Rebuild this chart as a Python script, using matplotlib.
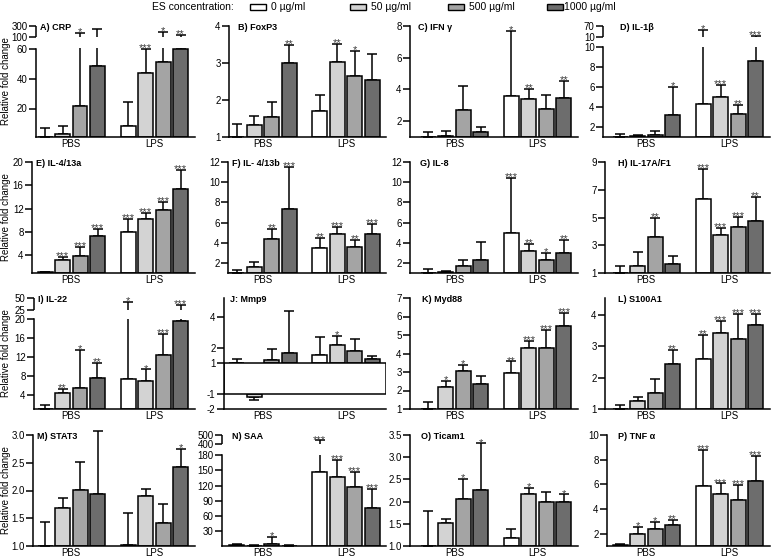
import numpy as np
import matplotlib
matplotlib.use('Agg')
import matplotlib.pyplot as plt
from matplotlib.patches import Rectangle

plt.rcParams['font.family'] = ['Liberation Sans', 'DejaVu Sans']

# ---- data ----
groups = ['PBS', 'LPS']
conc_labels = ['0 µg/ml', '50 µg/ml', '500 µg/ml', '1000 µg/ml']

titles = ['A) CRP', 'B) FoxP3', 'C) IFN γ', 'D) IL-1β',
          'E) IL-4/13a', 'F) IL- 4/13b', 'G) IL-8', 'H) IL-17A/F1',
          'I) IL-22', 'J: Mmp9', 'K) Myd88', 'L) S100A1',
          'M) STAT3', 'N) SAA', 'O) Ticam1', 'P) TNF α']

# bar heights: PBS 0/50/500/1000 then LPS 0/50/500/1000
means = [
    [1, 2.8, 21.7, 48.5, 8.5, 43.9, 51.2, 60],          # A
    [1, 1.32, 1.53, 2.99, 1.69, 3.03, 2.65, 2.53],      # B
    [1, 1.05, 2.68, 1.3, 3.58, 3.42, 2.78, 3.48],       # C
    [1, 1.15, 1.2, 3.2, 4.3, 4.97, 3.27, 8.6],          # D
    [1.1, 3.2, 3.9, 7.4, 8.1, 10.3, 11.8, 15.4],        # E
    [1, 1.6, 4.4, 7.3, 3.5, 4.85, 3.6, 4.85],           # F
    [1, 1.06, 1.66, 2.27, 5.0, 3.2, 2.27, 2.95],        # G
    [1, 1.5, 3.58, 1.65, 6.35, 3.77, 4.33, 4.73],       # H
    [1, 4.35, 5.5, 7.6, 7.4, 7.0, 12.5, 19.6],          # I
    [1, -1.2, 1.2, 1.67, 1.52, 2.16, 1.78, 1.24],       # J
    [1, 2.2, 3.08, 2.34, 2.96, 4.3, 4.3, 5.5],          # K
    [1, 1.24, 1.5, 2.44, 2.6, 3.42, 3.23, 3.7],         # L
    [1, 1.69, 2.01, 1.94, 1.02, 1.9, 1.42, 2.42],       # M
    [2, 1.5, 5.6, 1.5, 147, 137, 117.5, 76.7],          # N
    [1, 1.51, 2.06, 2.26, 1.17, 2.17, 2.0, 1.98],       # O
    [1.1, 1.95, 2.35, 2.68, 5.85, 5.25, 4.76, 6.25],    # P
]

# end of the error bar (mean + SD)
errs = [
    [7.2, 8.5, 170, 245, 24.5, 59.7, 196, 130],
    [1.36, 1.57, 1.94, 3.49, 2.13, 3.52, 3.33, 3.24],
    [1.3, 1.4, 4.2, 1.62, 7.7, 4.05, 3.63, 4.53],
    [1.3, 1.23, 1.63, 6.0, 48.5, 6.2, 4.2, 15],
    [1.2, 3.8, 5.5, 8.6, 10.3, 11.2, 13.2, 18.6],
    [1.26, 2.1, 5.4, 11.5, 4.5, 5.6, 4.3, 5.9],
    [1.4, 1.2, 2.33, 4.1, 10.4, 3.85, 2.95, 4.3],
    [1.48, 2.5, 5.0, 2.25, 8.5, 4.25, 5.05, 6.5],
    [1.9, 5.2, 13.5, 10.7, 41, 9.35, 16.8, 35.4],
    [1.24, -1.4, 1.9, 4.37, 2.7, 2.75, 2.55, 1.45],
    [1.37, 2.52, 3.38, 2.78, 3.57, 4.7, 5.25, 6.2],
    [1.14, 1.38, 1.95, 2.89, 3.36, 3.81, 4.05, 4.05],
    [1.44, 1.87, 2.52, 3.08, 1.6, 2.02, 1.76, 2.75],
    [4, 3, 19, 3, 439, 170, 146, 114],
    [1.78, 1.6, 2.5, 3.31, 1.38, 2.3, 2.22, 2.16],
    [1.2, 2.54, 2.95, 3.14, 8.78, 6.07, 5.93, 8.29],
]

stars = [
    ['', '', '*', '', '', '***', '*', '**'],
    ['', '', '', '**', '', '**', '*', ''],
    ['', '', '', '', '*', '**', '', '**'],
    ['', '', '', '*', '*', '***', '**', '***'],
    ['', '***', '***', '***', '***', '***', '***', '***'],
    ['', '', '**', '***', '**', '***', '**', '***'],
    ['', '', '', '', '***', '**', '*', '**'],
    ['', '', '**', '', '***', '***', '***', '**'],
    ['', '**', '*', '**', '*', '*', '***', '***'],
    ['', '', '', '', '', '*', '', ''],
    ['', '*', '*', '', '**', '***', '***', '***'],
    ['', '', '', '**', '**', '***', '***', '***'],
    ['', '', '', '', '', '', '', '*'],
    ['', '', '*', '', '***', '***', '***', '***'],
    ['', '', '*', '*', '', '*', '', '*'],
    ['', '*', '*', '**', '***', '***', '***', '***'],
]

ytick_vals = [
    [20, 40, 60, 100, 300], [1, 2, 3, 4], [2, 4, 6, 8], [2, 4, 6, 8, 10, 10.001, 70],
    [4, 8, 12, 16, 20], [2, 4, 6, 8, 10, 12], [2, 4, 6, 8, 10, 12], [1, 3, 5, 7, 9],
    [4, 8, 12, 16, 20, 25, 50], [-2, -1, 1, 2, 4], [1, 2, 3, 4, 5, 6, 7], [1, 2, 3, 4],
    [1.0, 1.5, 2.0, 2.5, 3.0], [30, 60, 90, 120, 150, 180, 400, 500],
    [1.0, 1.5, 2.0, 2.5, 3.0, 3.5], [2, 4, 6, 8, 10],
]
ytick_text = [
    ['20', '40', '60', '100', '300'], ['1', '2', '3', '4'], ['2', '4', '6', '8'],
    ['2', '4', '6', '8', '10', '10', '70'],
    ['4', '8', '12', '16', '20'], ['2', '4', '6', '8', '10', '12'],
    ['2', '4', '6', '8', '10', '12'], ['1', '3', '5', '7', '9'],
    ['4', '8', '12', '16', '20', '25', '50'], ['-2', '-1', '1', '2', '4'],
    ['1', '2', '3', '4', '5', '6', '7'], ['1', '2', '3', '4'],
    ['1.0', '1.5', '2.0', '2.5', '3.0'], ['30', '60', '90', '120', '150', '180', '400', '500'],
    ['1.0', '1.5', '2.0', '2.5', '3.0', '3.5'], ['2', '4', '6', '8', '10'],
]
ylims = [(1, 300), (1, 4), (1, 8), (1, 70), (1, 20), (1, 12), (1, 12), (1, 9),
         (1, 50), (-2, 5.25), (1, 7), (1, 4.55), (1, 3.0), (1, 500), (1, 3.5), (1, 10)]

# broken y axes: value anchors -> pixel height above the axis bottom
breaks = {
    0: ([1, 60, 100, 300], [0, 88.5, 100, 111]),
    3: ([1, 10, 10.001, 70], [0, 90, 100, 111]),
    8: ([1, 20, 25, 50], [0, 90, 99, 111]),
    13: ([1, 180, 400, 500], [0, 91, 102, 111]),
}

# ---- layout (pixels of the 772x558 figure) ----
W, H = 772, 558
row_bottom = [137, 273, 409, 546]
panel_h = 111
spine_px = [36, 229, 410, 603, 32, 228, 410, 605, 34, 224, 410, 605, 33, 222, 410, 607]
title_px = [40, 238, 418, 620, 36, 232, 420, 618, 38, 230, 422, 618, 37, 232, 421, 618]
first_center = [45, 236.7, 428.4, 620]
step = 17.5
pos = np.array([0, 1, 2, 3, 4.743, 5.743, 6.743, 7.743])
bar_w = 15 / step
bar_colors = ['#ffffff', '#d3d3d3', '#a4a4a4', '#6d6d6d']
lw = 1.1


def piecewise(v, xp, fp):
    v = np.asarray(v, float)
    out = np.interp(v, xp, fp)
    s0 = (fp[1] - fp[0]) / (xp[1] - xp[0])
    s1 = (fp[-1] - fp[-2]) / (xp[-1] - xp[-2])
    out = np.where(v < xp[0], fp[0] + (v - xp[0]) * s0, out)
    out = np.where(v > xp[-1], fp[-1] + (v - xp[-1]) * s1, out)
    return out


def make_funcs(xp, fp):
    xp = np.asarray(xp, float)
    fp = np.asarray(fp, float)
    return (lambda v: piecewise(v, xp, fp)), (lambda v: piecewise(v, fp, xp))


fig = plt.figure(figsize=(W / 100, H / 100), dpi=100)

for i in range(16):
    r, c = divmod(i, 4)
    left = spine_px[i]
    bottom = row_bottom[r]
    xl = (left - first_center[c]) / step
    xr = pos[-1] + 14 / step
    wpx = (xr - xl) * step
    ax = fig.add_axes([left / W, 1 - bottom / H, wpx / W, panel_h / H])

    if i in breaks:
        xp, fp = breaks[i]
        ax.set_yscale('function', functions=make_funcs(xp, fp))

    ax.set_xlim(xl, xr)
    ax.set_ylim(*ylims[i])

    m = np.array(means[i], float)
    e = np.array(errs[i], float)
    base = np.where(m >= 0, 1.0, -1.0)
    ax.bar(pos, m - base, bottom=base, width=bar_w, color=bar_colors * 2,
           edgecolor='black', linewidth=lw, zorder=2)
    lower = np.clip(m - e, 0, None)
    upper = np.clip(e - m, 0, None)
    ax.errorbar(pos, m, yerr=[lower, upper], fmt='none', ecolor='black',
                elinewidth=lw, capsize=3.6, capthick=lw, zorder=1.5, clip_on=False)

    for x, ev, s in zip(pos, e, stars[i]):
        if s:
            ax.annotate(s, (x, ev), xytext=(0, -3), textcoords='offset points',
                        ha='center', va='bottom', fontsize=8, color='#3c3c3c',
                        zorder=3)

    for side in ['top', 'right']:
        ax.spines[side].set_visible(False)
    for side in ['left', 'bottom']:
        ax.spines[side].set_linewidth(lw)

    if i in breaks:
        xp, fp = breaks[i]
        gap = xp[2] - xp[1]
        ax.axhspan(xp[1] + gap * 0.03, xp[2] - gap * 0.03, color='white', lw=0, zorder=1.8)
        ax.spines['left'].set_bounds(xp[0], xp[1])
        ax.plot([0, 0], [xp[2], xp[3]], transform=ax.get_yaxis_transform(),
                color='black', lw=lw, clip_on=False, solid_capstyle='butt')

    if titles[i].startswith('J'):
        ax.axhspan(-1, 1, facecolor='white', edgecolor='black', lw=lw, zorder=2.2)

    ax.set_yticks(ytick_vals[i])
    ax.set_yticklabels(ytick_text[i])
    ax.yaxis.set_minor_locator(matplotlib.ticker.NullLocator())
    ax.tick_params(axis='y', direction='out', length=5, width=lw, pad=1, labelsize=7)
    ax.set_xticks([pos[:4].mean(), pos[4:].mean()])
    ax.set_xticklabels(groups)
    ax.tick_params(axis='x', direction='out', length=0, pad=1.2, labelsize=7)

    fig.text(title_px[i] / W, 1 - (bottom - panel_h + 4) / H, titles[i],
             fontsize=6.5, fontweight='bold', ha='left', va='baseline')
    if c == 0:
        fig.text(6 / W, 1 - (bottom - panel_h / 2) / H, 'Relative fold change',
                 rotation=90, ha='center', va='center', fontsize=7)

# legend along the top
fig.text(152 / W, 1 - 10 / H, 'ES concentration:', fontsize=7.5, va='baseline')
patch_x = [250, 350, 448, 547]
text_gap = [5, 5, 5, 0.5]
for k in range(4):
    fig.add_artist(Rectangle((patch_x[k] / W, 1 - 9.5 / H), 16 / W, 6 / H,
                             transform=fig.transFigure, facecolor=bar_colors[k],
                             edgecolor='black', lw=1))
    fig.text((patch_x[k] + 16 + text_gap[k]) / W, 1 - 10 / H, conc_labels[k],
             fontsize=7.5, va='baseline')

fig.savefig('out.png', dpi=100)
